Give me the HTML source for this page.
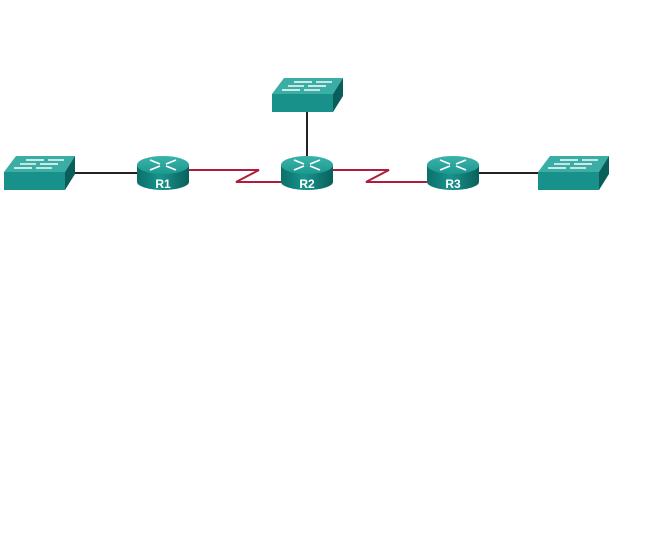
<!DOCTYPE html>
<html><head><style>html,body{margin:0;padding:0;background:#fff;width:653px;height:556px;overflow:hidden}</style></head>
<body>
<svg width="653" height="556" viewBox="0 0 653 556" xmlns="http://www.w3.org/2000/svg">
<defs>
<linearGradient id="rb" x1="0" x2="1" y1="0" y2="0">
<stop offset="0" stop-color="#0b6f6a"/><stop offset="0.45" stop-color="#17948c"/><stop offset="1" stop-color="#0a5f5b"/>
</linearGradient>
<linearGradient id="rt" x1="0" x2="0" y1="0" y2="1">
<stop offset="0" stop-color="#3bb3ab"/><stop offset="1" stop-color="#1c9990"/>
</linearGradient>
<g id="router">
<path d="M-26,0 L-26,17 A26,8 0 0 0 26,17 L26,0 Z" fill="url(#rb)"/>
<ellipse cx="0" cy="0" rx="26" ry="9" fill="url(#rt)"/>
<g stroke="#fff" stroke-width="1.6" fill="none">
<path d="M-13,-5 L-3,-1 M13,5 L3,1 M13,-5 L3,-1 M-13,5 L-3,1"/>
</g>
</g>
<g id="switch">
<polygon points="0,16 12,0 71,0 61,16" fill="#3aada5"/>
<polygon points="61,16 71,0 71,18 61,34" fill="#0a5e5a"/>
<rect x="0" y="16" width="61" height="18" fill="#17918a"/>
<g stroke="#fff" stroke-width="1.4">
<line x1="22" y1="4" x2="40" y2="4"/><line x1="44" y1="4" x2="60" y2="4"/>
<line x1="16" y1="8" x2="32" y2="8"/><line x1="36" y1="8" x2="54" y2="8"/>
<line x1="10" y1="12" x2="28" y2="12"/><line x1="32" y1="12" x2="48" y2="12"/>
</g>
</g>
</defs>
<g stroke="#222" stroke-width="2" fill="none">
<line x1="66" y1="173" x2="137" y2="173"/>
<line x1="479" y1="173" x2="538" y2="173"/>
<line x1="307" y1="112" x2="307" y2="158"/>
</g>
<g stroke="#b01c3a" stroke-width="2" fill="none">
<polyline points="189,170 259,170 236,182 281,182"/>
<polyline points="333,170 389,170 366,182 427,182"/>
</g>
<use href="#switch" x="4" y="156"/>
<use href="#switch" x="272" y="78"/>
<use href="#switch" x="538" y="156"/>
<use href="#router" x="163" y="165"/>
<use href="#router" x="307" y="165"/>
<use href="#router" x="453" y="165"/>
<g font-family="Liberation Sans, sans-serif" font-weight="bold" font-size="12" fill="#fff" text-anchor="middle">
<text x="163" y="188">R1</text><text x="307" y="188">R2</text><text x="453" y="188">R3</text>
</g>
</svg>
</body></html>
